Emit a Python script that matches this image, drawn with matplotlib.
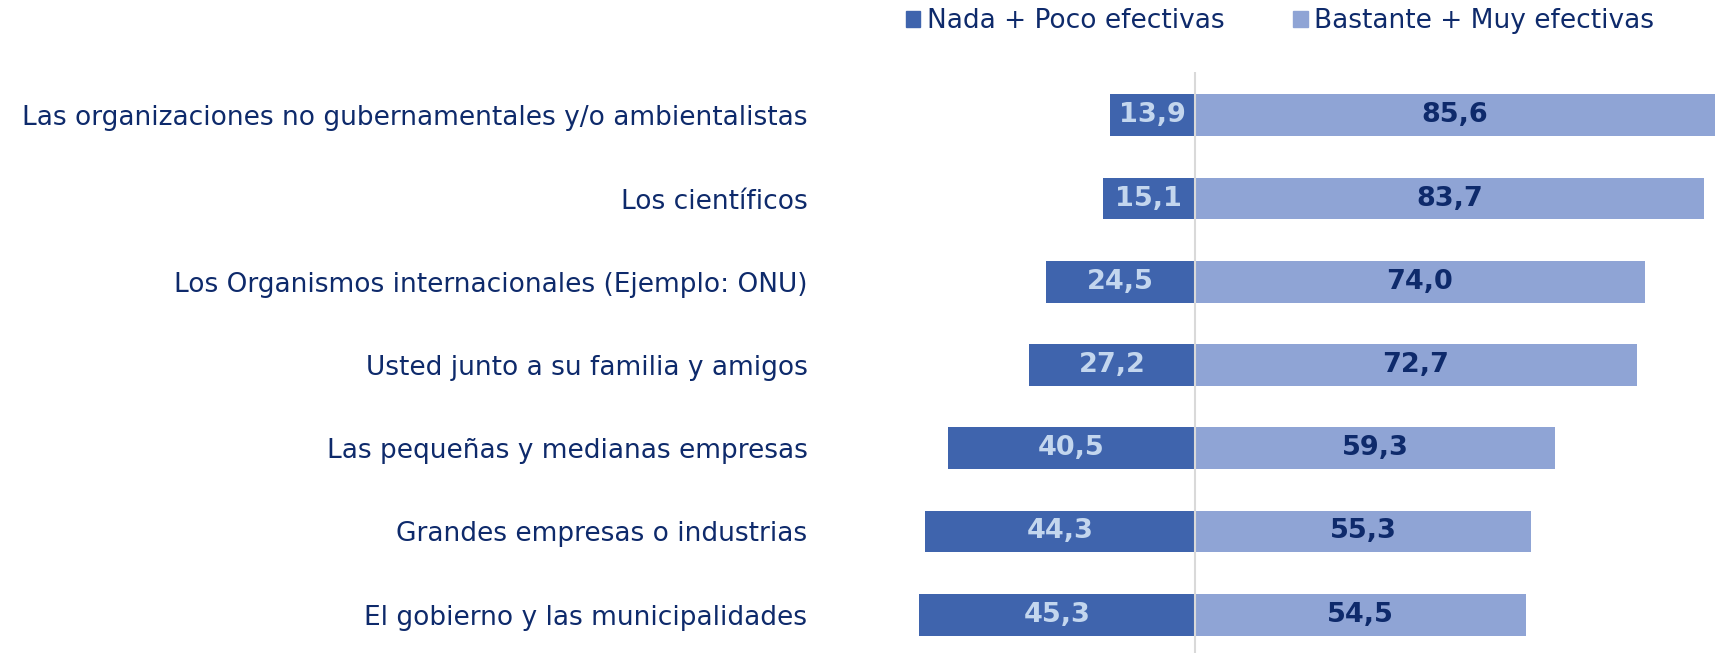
import matplotlib.pyplot as plt
from matplotlib.patches import Patch

categorias = [
    'Las organizaciones no gubernamentales y/o ambientalistas',
    'Los científicos',
    'Los Organismos internacionales (Ejemplo: ONU)',
    'Usted junto a su familia y amigos',
    'Las pequeñas y medianas empresas',
    'Grandes empresas o industrias',
    'El gobierno y las municipalidades',
]
nada_poco = [13.9, 15.1, 24.5, 27.2, 40.5, 44.3, 45.3]
bastante_muy = [85.6, 83.7, 74.0, 72.7, 59.3, 55.3, 54.5]
series = ['Nada + Poco efectivas', 'Bastante + Muy efectivas']

c_dark = '#3F64AD'
c_light = '#8FA4D5'
c_text = '#0E2A6B'
c_val_light = '#C3D6EE'


def fmt(v):
    return ('%.1f' % v).replace('.', ',')


fig = plt.figure(figsize=(17.16, 6.53), dpi=100)
ax = fig.add_axes([820 / 1716, 0, 1 - 820 / 1716, 581 / 653])

y = list(range(len(categorias)))
neg = [-v for v in nada_poco]
b1 = ax.barh(y, neg, height=0.5, color=c_dark)
b2 = ax.barh(y, bastante_muy, height=0.5, color=c_light)

ax.bar_label(b1, labels=[fmt(v) for v in nada_poco], label_type='center',
             color=c_val_light, fontsize=19.5, fontweight='bold')
ax.bar_label(b2, labels=[fmt(v) for v in bastante_muy], label_type='center',
             color=c_text, fontsize=19.5, fontweight='bold')

ax.axvline(0, color='#D9D9D9', lw=1.5, zorder=3)

ax.set_xlim(-61.6, 85.7)
ax.set_ylim(6.46, -0.52)
ax.set_yticks(y)
ax.set_yticklabels(categorias, fontsize=19, color=c_text)
ax.tick_params(axis='y', length=0, pad=9)
ax.set_xticks([])
for s in ax.spines.values():
    s.set_visible(False)

handles = [Patch(color=c_dark), Patch(color=c_light)]
fig.legend(handles, series, loc='center left', bbox_to_anchor=(0.514, 0.968),
           ncol=2, frameon=False, fontsize=19, labelcolor=c_text,
           handlelength=0.55, handleheight=0.55, handletextpad=0.25,
           columnspacing=2.6)

fig.savefig('out.png', dpi=100)
